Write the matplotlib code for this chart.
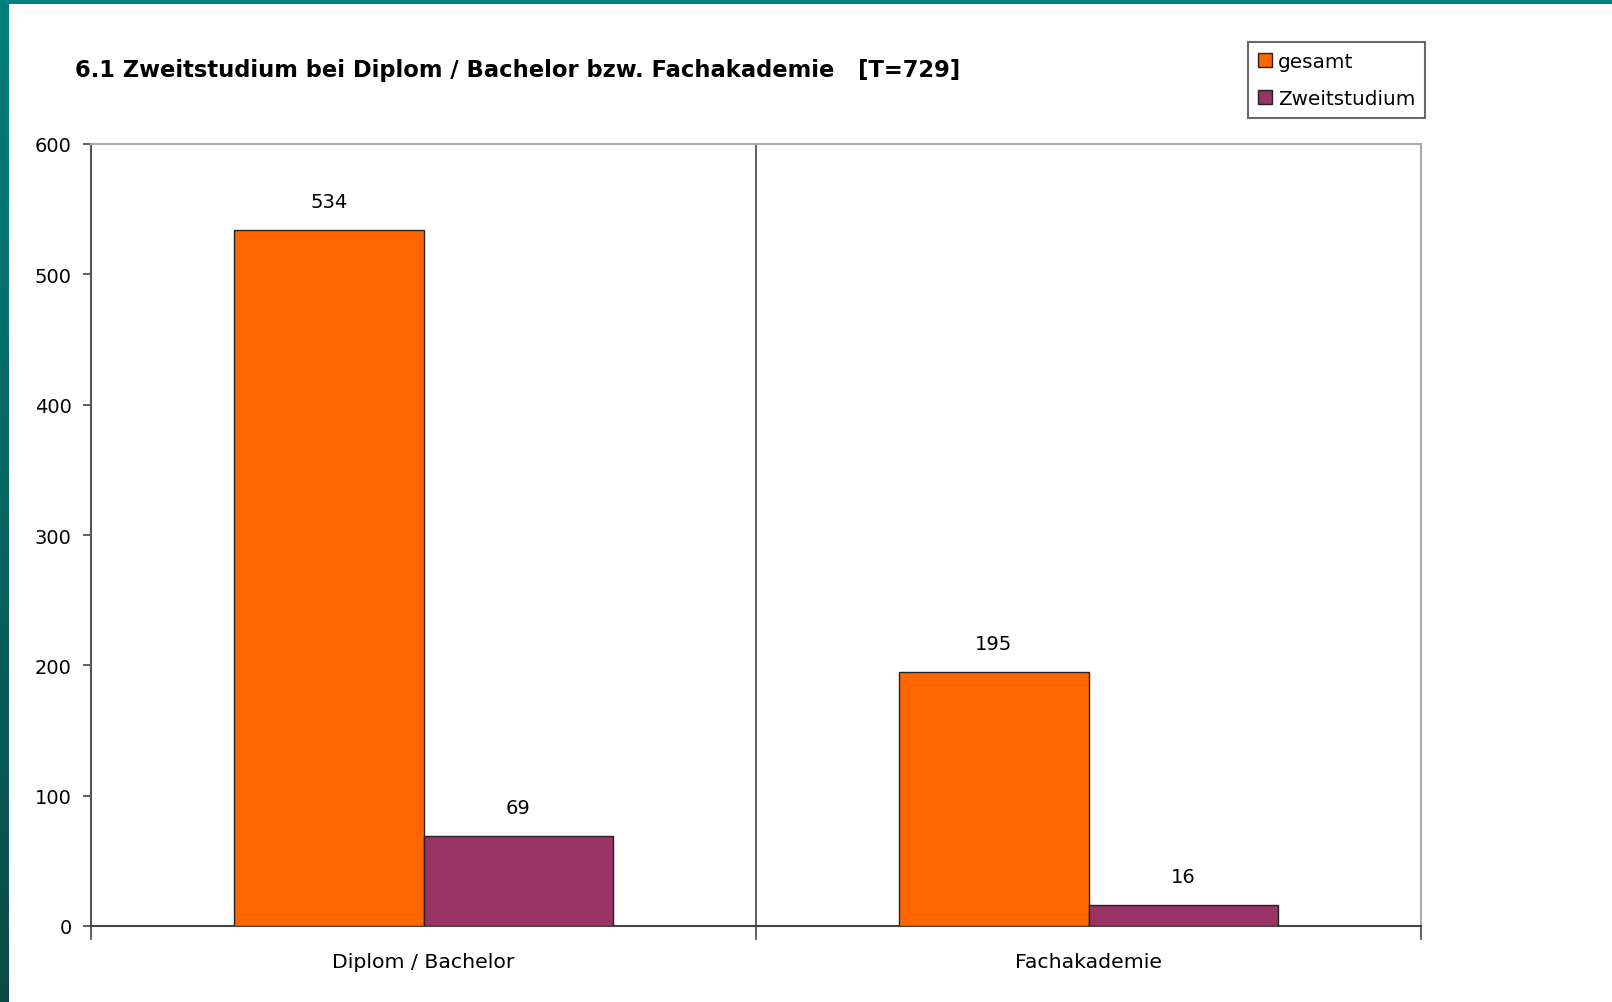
import matplotlib
matplotlib.use("Agg")
import matplotlib.pyplot as plt
import numpy as np
from matplotlib.patches import Rectangle
from matplotlib.colors import LinearSegmentedColormap

categories = ["Diplom / Bachelor", "Fachakademie"]
series_names = ["gesamt", "Zweitstudium"]
gesamt = [534, 195]
zweitstudium = [69, 16]
yticks = [0, 100, 200, 300, 400, 500, 600]
title = "6.1 Zweitstudium bei Diplom / Bachelor bzw. Fachakademie   [T=729]"

colors = ["#FF6600", "#993366"]
plt.rcParams['font.family'] = ['DejaVu Sans']

W, H = 1612, 1003
fig = plt.figure(figsize=(W / 100, H / 100), dpi=100)
fig.patch.set_facecolor("white")

# teal frame (top band + left gradient strip)
fig.patches.append(Rectangle((0, 1 - 5 / H), 1, 5 / H, transform=fig.transFigure,
                             facecolor="#008080", edgecolor="none", zorder=0))
gax = fig.add_axes([0, 0, 9 / W, 1])
grad = np.linspace(0, 1, 256).reshape(-1, 1)
cm = LinearSegmentedColormap.from_list("t", ["#0c4a48", "#007f7b"])
gax.imshow(grad, aspect="auto", cmap=cm, origin="lower", extent=[0, 1, 0, 1])
gax.axis("off")

left, right = 91 / W, 1421 / W
bottom, top = 1 - 927 / H, 1 - 145 / H
ax = fig.add_axes([left, bottom, right - left, top - bottom])

x = np.arange(len(categories))
bw = 0.285
b1 = ax.bar(x - bw / 2, gesamt, bw, color=colors[0], edgecolor="#222222", linewidth=1.0,
            label=series_names[0], zorder=3)
b2 = ax.bar(x + bw / 2, zweitstudium, bw, color=colors[1], edgecolor="#222222", linewidth=1.0,
            label=series_names[1], zorder=3)

for bars, vals in ((b1, gesamt), (b2, zweitstudium)):
    for r, v in zip(bars, vals):
        ax.text(r.get_x() + r.get_width() / 2, v + 22, str(v), ha="center", va="center",
                fontsize=14, color="black")

ax.set_xlim(-0.5, len(categories) - 0.5)
ax.set_ylim(0, 600)
ax.set_yticks(yticks)
ax.set_yticklabels([str(t) for t in yticks], fontsize=14)
ax.set_xticks(x)
ax.set_xticklabels(categories, fontsize=14.7)
ax.tick_params(axis="x", length=0, pad=19)
ax.tick_params(axis="y", length=6, width=1.2, color="#444444", pad=8, direction="out")
# category boundary ticks
for b in [-0.5, 0.5, 1.5]:
    ax.plot([b, b], [0, -10], color="#444444", lw=1.2, clip_on=False, zorder=4)
ax.axvline(0.5, color="#444444", lw=1.2, zorder=2)

ax.spines["left"].set_color("#555555")
ax.spines["left"].set_linewidth(1.5)
ax.spines["bottom"].set_color("#444444")
ax.spines["bottom"].set_linewidth(1.5)
ax.spines["top"].set_color("#aaaaaa")
ax.spines["top"].set_linewidth(1.5)
ax.spines["right"].set_color("#aaaaaa")
ax.spines["right"].set_linewidth(1.5)

fig.text(75 / W, 1 - 70 / H, title, fontsize=16.3, fontweight="bold", ha="left", va="center")

leg = fig.legend(handles=[b1, b2], labels=series_names, loc="upper left",
                 bbox_to_anchor=(1248 / W, 1 - 43 / H), fontsize=14.4, frameon=True,
                 fancybox=False, edgecolor="#444444", handlelength=0.7, handleheight=0.7,
                 handletextpad=0.3, borderpad=0.5, labelspacing=0.9, borderaxespad=0)
leg.get_frame().set_linewidth(1.5)

fig.savefig("out.png", dpi=100)
